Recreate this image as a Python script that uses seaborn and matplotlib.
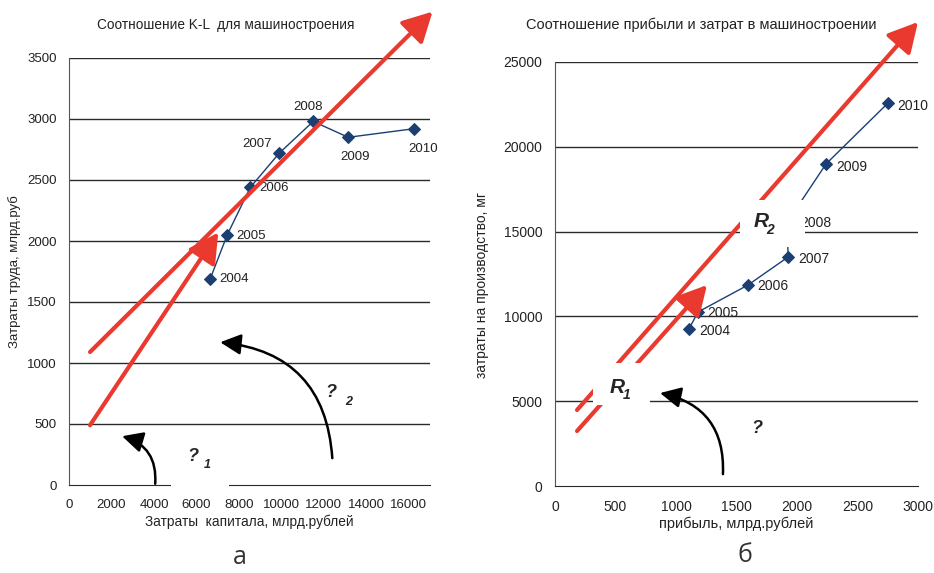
import numpy as np
import pandas as pd
import matplotlib
matplotlib.use('Agg')
import matplotlib.pyplot as plt
import seaborn as sns
from matplotlib.patches import Rectangle

# data
years = ['2004', '2005', '2006', '2007', '2008', '2009', '2010']

capital = [6650, 7450, 8540, 9900, 11500, 13150, 16230]
labour = [1690, 2050, 2440, 2720, 2980, 2850, 2920]

profit = [1107, 1182, 1595, 1926, 1920, 2240, 2752]
costs = [9260, 10260, 11850, 13500, 15560, 18990, 22580]

# label offsets (pixels) for the year labels
left_offsets = [(24, 0), (24, -1), (24, -1), (-22, 9), (-5, 14), (7, -20), (9, -20)]
right_offsets = [(26, -2), (25, -1), (25, -1), (26, -2), (28, -1), (26, -3), (25, -3)]

left_yticks = [0, 500, 1000, 1500, 2000, 2500, 3000, 3500]
left_xticks = [0, 2000, 4000, 6000, 8000, 10000, 12000, 14000, 16000]
right_yticks = [0, 5000, 10000, 15000, 20000, 25000]
right_xticks = [0, 500, 1000, 1500, 2000, 2500, 3000]

sns.set_style('white')
plt.rcParams['font.family'] = ['Liberation Sans', 'DejaVu Sans']

RED = '#ea3a30'
BLUE = '#1b3f73'

fig = plt.figure(figsize=(9.34, 5.73), dpi=100)
ax1 = fig.add_axes([69/934, 1-485/573, 361/934, 427/573])
ax2 = fig.add_axes([555/934, 1-486/573, 363/934, 424/573])

df1 = pd.DataFrame({'x': capital, 'y': labour, 'year': years})
df2 = pd.DataFrame({'x': profit, 'y': costs, 'year': years})


def style_axes(ax, xticks, yticks, fs):
    ax.set_ylim(yticks[0], yticks[-1])
    ax.set_xticks(xticks)
    ax.set_yticks(yticks)
    for y in yticks[1:]:
        ax.axhline(y, color='#2a2a2a', lw=1.0, zorder=1)
    for s in ['top', 'right']:
        ax.spines[s].set_visible(False)
    ax.spines['left'].set_color('#555555')
    ax.spines['bottom'].set_color('#2a2a2a')
    ax.tick_params(axis='both', direction='out', length=4, width=1,
                   color='#444444', labelsize=fs, labelcolor='#222222', pad=5)
    ax.tick_params(axis='x', pad=6)
    ax.set_xlabel('')
    ax.set_ylabel('')


# ---------- left panel ----------
sns.lineplot(data=df1, x='x', y='y', sort=False, marker='D', color=BLUE,
             markersize=6, markeredgecolor=BLUE, lw=1, ax=ax1, zorder=3)
style_axes(ax1, left_xticks, left_yticks, 9.5)
ax1.set_xlim(0, 17000)
for (x, y, yr), off in zip(df1.values, left_offsets):
    ax1.annotate(yr, (x, y), xytext=off, textcoords='offset pixels',
                 ha='center', va='center', fontsize=9.5, color='#222222')

red_head = '-|>,head_length=0.6,head_width=0.32'
ax1.annotate('', xy=(17120, 3880), xytext=(990, 1090), annotation_clip=False,
             arrowprops=dict(arrowstyle=red_head, color=RED, lw=3,
                             mutation_scale=30, shrinkA=0, shrinkB=0))
ax1.annotate('', xy=(7030, 2070), xytext=(990, 490), annotation_clip=False,
             arrowprops=dict(arrowstyle=red_head, color=RED, lw=3,
                             mutation_scale=30, shrinkA=0, shrinkB=0))

blk_head = '-|>,head_length=0.7,head_width=0.35'
ax1.annotate('', xy=(2500, 400), xytext=(4060, 10), annotation_clip=False,
             arrowprops=dict(arrowstyle=blk_head, color='black', lw=1.8,
                             mutation_scale=18, shrinkA=0, shrinkB=0,
                             connectionstyle='arc3,rad=0.4'))
ax1.annotate('', xy=(7120, 1170), xytext=(12400, 220), annotation_clip=False,
             arrowprops=dict(arrowstyle=blk_head, color='black', lw=1.8,
                             mutation_scale=18, shrinkA=0, shrinkB=0,
                             connectionstyle='arc3,rad=0.42'))

ax1.add_patch(Rectangle((4810, -40), 2740, 400, facecolor='white',
                        edgecolor='none', zorder=10, clip_on=False))
ax1.text(5850, 230, '?', fontsize=13, fontweight='bold', style='italic',
         ha='center', va='center', zorder=11)
ax1.text(6500, 160, '1', fontsize=9, fontweight='bold', style='italic',
         ha='center', va='center', zorder=11)
ax1.text(12350, 760, '?', fontsize=13, fontweight='bold', style='italic',
         ha='center', va='center', zorder=11)
ax1.text(13150, 680, '2', fontsize=9, fontweight='bold', style='italic',
         ha='center', va='center', zorder=11)

# ---------- right panel ----------
sns.lineplot(data=df2, x='x', y='y', sort=False, marker='D', color=BLUE,
             markersize=6, markeredgecolor=BLUE, lw=1, ax=ax2, zorder=3)
style_axes(ax2, right_xticks, right_yticks, 10)
ax2.set_xlim(0, 3000)
for (x, y, yr), off in zip(df2.values, right_offsets):
    ax2.annotate(yr, (x, y), xytext=off, textcoords='offset pixels',
                 ha='center', va='center', fontsize=10, color='#222222')

ax2.annotate('', xy=(3000, 27360), xytext=(182, 4480), annotation_clip=False,
             arrowprops=dict(arrowstyle=red_head, color=RED, lw=3,
                             mutation_scale=30, shrinkA=0, shrinkB=0))
ax2.annotate('', xy=(1256, 11850), xytext=(182, 3240), annotation_clip=False,
             arrowprops=dict(arrowstyle=red_head, color=RED, lw=3,
                             mutation_scale=30, shrinkA=0, shrinkB=0))
ax2.annotate('', xy=(868, 5480), xytext=(1388, 700), annotation_clip=False,
             arrowprops=dict(arrowstyle=blk_head, color='black', lw=1.8,
                             mutation_scale=18, shrinkA=0, shrinkB=0,
                             connectionstyle='arc3,rad=0.42'))

ax2.add_patch(Rectangle((314, 4780), 470, 2470, facecolor='white',
                        edgecolor='none', zorder=10, clip_on=False))
ax2.add_patch(Rectangle((1529, 14090), 537, 2770, facecolor='white',
                        edgecolor='none', zorder=10, clip_on=False))
ax2.text(510, 5800, 'R', fontsize=15, fontweight='bold', style='italic',
         ha='center', va='center', zorder=11)
ax2.text(590, 5350, '1', fontsize=10, fontweight='bold', style='italic',
         ha='center', va='center', zorder=11)
ax2.text(1700, 15600, 'R', fontsize=15, fontweight='bold', style='italic',
         ha='center', va='center', zorder=11)
ax2.text(1780, 15100, '2', fontsize=10, fontweight='bold', style='italic',
         ha='center', va='center', zorder=11)
ax2.text(1670, 3400, '?', fontsize=13, fontweight='bold', style='italic',
         ha='center', va='center', zorder=11)

# ---------- titles and labels ----------
fig.text(226/934, 1-25/573, 'Соотношение K-L  для машиностроения',
         ha='center', va='center', fontsize=9.8, color='#222222')
fig.text(701/934, 1-25/573, 'Соотношение прибыли и затрат в машиностроении',
         ha='center', va='center', fontsize=10.5, color='#222222')
fig.text(249/934, 1-522/573, 'Затраты  капитала, млрд.рублей',
         ha='center', va='center', fontsize=9.8, color='#222222')
fig.text(736/934, 1-524/573, 'прибыль, млрд.рублей',
         ha='center', va='center', fontsize=10.5, color='#222222')
fig.text(15/934, 1-348/573, 'Затраты труда, млрд.руб',
         ha='center', va='bottom', rotation=90, fontsize=9.5, color='#222222')
fig.text(482/934, 1-378/573, 'затраты на производство, мг',
         ha='center', va='bottom', rotation=90, fontsize=10, color='#222222')
fig.text(240/934, 1-557/573, 'а', ha='center', va='center', fontsize=18,
         family='Open Sans', color='#333333')
fig.text(745/934, 1-555/573, 'б', ha='center', va='center', fontsize=18,
         family='Open Sans', color='#333333')

fig.savefig('out.png', dpi=100)
